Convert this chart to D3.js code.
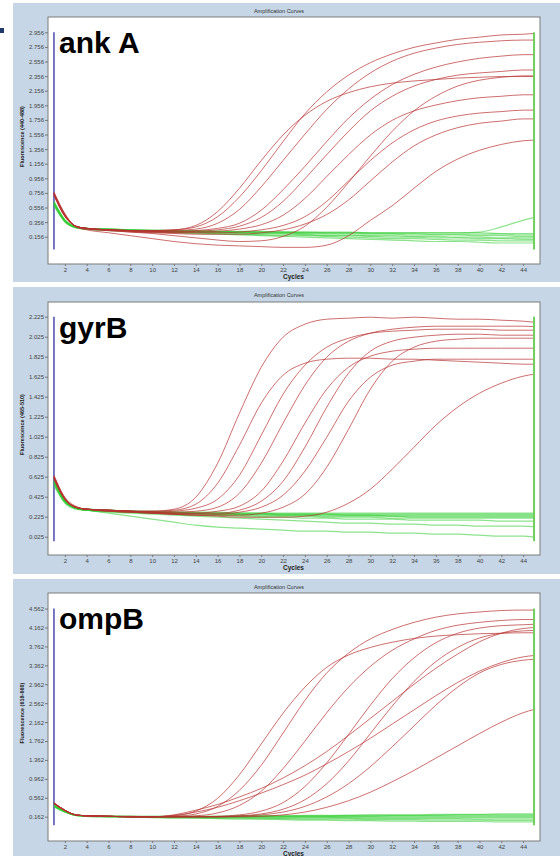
<!DOCTYPE html>
<html>
<head>
<meta charset="utf-8">
<script src="https://cdn.jsdelivr.net/npm/d3@7"></script>
<style>
  body { margin: 0; background: #fff; }
  svg { display: block; font-family: "Liberation Sans", Arial, sans-serif; }
</style>
</head>
<body>
<svg id="chart" width="560" height="856"></svg>
<script>
var cycles = [1,2,3,4,6,8,10,12,14,16,18,20,22,24,26,28,30,32,34,36,38,40,42,44,45];
var xTicks = [2,4,6,8,10,12,14,16,18,20,22,24,26,28,30,32,34,36,38,40,42,44];

// ank A
var ankTicks = [0.156,0.356,0.556,0.756,0.956,1.156,1.356,1.556,1.756,1.956,2.156,2.356,2.556,2.756,2.956];
var ankRed = [
  [0.76,0.47,0.30,0.27,0.25,0.24,0.24,0.25,0.31,0.50,0.82,1.20,1.55,1.82,2.01,2.13,2.21,2.26,2.29,2.31,2.33,2.34,2.35,2.35,2.35],
  [0.74,0.45,0.30,0.27,0.25,0.24,0.24,0.25,0.29,0.43,0.70,1.06,1.46,1.84,2.14,2.37,2.54,2.66,2.75,2.81,2.86,2.89,2.92,2.93,2.94],
  [0.73,0.44,0.30,0.27,0.25,0.24,0.23,0.24,0.26,0.34,0.53,0.84,1.20,1.56,1.90,2.18,2.40,2.56,2.67,2.74,2.79,2.82,2.84,2.85,2.85],
  [0.75,0.45,0.30,0.27,0.25,0.24,0.23,0.23,0.24,0.27,0.34,0.52,0.80,1.12,1.46,1.78,2.04,2.24,2.38,2.48,2.55,2.60,2.63,2.65,2.65],
  [0.74,0.44,0.30,0.27,0.25,0.24,0.23,0.22,0.23,0.25,0.30,0.42,0.64,0.95,1.28,1.60,1.88,2.08,2.22,2.31,2.37,2.40,2.42,2.44,2.44],
  [0.73,0.44,0.30,0.27,0.25,0.23,0.22,0.22,0.22,0.23,0.26,0.32,0.45,0.68,0.98,1.28,1.55,1.75,1.88,1.96,2.02,2.06,2.08,2.10,2.10],
  [0.72,0.43,0.30,0.27,0.25,0.23,0.22,0.21,0.21,0.21,0.22,0.25,0.31,0.43,0.64,0.92,1.20,1.44,1.62,1.74,1.81,1.85,1.87,1.89,1.89],
  [0.74,0.45,0.30,0.26,0.24,0.22,0.21,0.20,0.19,0.19,0.19,0.21,0.25,0.33,0.46,0.66,0.92,1.18,1.40,1.55,1.65,1.71,1.74,1.77,1.77],
  [0.75,0.45,0.30,0.27,0.24,0.22,0.20,0.17,0.14,0.11,0.09,0.10,0.16,0.30,0.56,0.90,1.26,1.60,1.88,2.08,2.22,2.30,2.34,2.36,2.36],
  [0.77,0.47,0.29,0.25,0.21,0.17,0.13,0.09,0.06,0.04,0.03,0.02,0.01,0.01,0.04,0.17,0.38,0.58,0.82,1.05,1.22,1.34,1.42,1.47,1.48]
];
var ankGreen = [
  [0.62,0.38,0.29,0.27,0.26,0.25,0.25,0.24,0.24,0.23,0.23,0.23,0.22,0.22,0.22,0.22,0.21,0.21,0.21,0.21,0.21,0.21,0.20,0.20,0.20],
  [0.60,0.37,0.29,0.27,0.26,0.25,0.24,0.24,0.23,0.23,0.22,0.22,0.22,0.21,0.21,0.21,0.20,0.20,0.20,0.19,0.19,0.19,0.19,0.18,0.18],
  [0.64,0.39,0.29,0.27,0.26,0.25,0.24,0.23,0.23,0.22,0.22,0.21,0.21,0.20,0.20,0.20,0.19,0.19,0.18,0.18,0.18,0.17,0.17,0.16,0.16],
  [0.58,0.36,0.28,0.26,0.25,0.24,0.23,0.23,0.22,0.21,0.21,0.20,0.20,0.19,0.18,0.18,0.17,0.17,0.16,0.16,0.15,0.15,0.14,0.14,0.14],
  [0.61,0.37,0.28,0.26,0.25,0.24,0.23,0.22,0.21,0.21,0.20,0.19,0.19,0.18,0.17,0.17,0.16,0.15,0.15,0.14,0.14,0.13,0.13,0.12,0.12],
  [0.63,0.38,0.29,0.26,0.25,0.24,0.23,0.22,0.21,0.20,0.19,0.18,0.17,0.17,0.16,0.15,0.14,0.13,0.13,0.12,0.11,0.11,0.10,0.10,0.10],
  [0.59,0.36,0.28,0.26,0.24,0.23,0.22,0.21,0.20,0.19,0.18,0.17,0.16,0.15,0.14,0.13,0.12,0.11,0.10,0.09,0.09,0.08,0.07,0.07,0.07],
  [0.62,0.38,0.29,0.27,0.26,0.25,0.24,0.24,0.23,0.23,0.22,0.22,0.22,0.22,0.21,0.21,0.21,0.21,0.21,0.21,0.21,0.22,0.29,0.38,0.42]
];

// gyrB
var gyrTicks = [0.025,0.225,0.425,0.625,0.825,1.025,1.225,1.425,1.625,1.825,2.025,2.225];
var gyrRed = [
  [0.64,0.42,0.33,0.30,0.29,0.28,0.28,0.30,0.42,0.76,1.26,1.72,2.02,2.15,2.20,2.21,2.22,2.21,2.22,2.21,2.20,2.20,2.19,2.18,2.17],
  [0.60,0.40,0.32,0.30,0.29,0.28,0.28,0.29,0.35,0.56,0.94,1.36,1.64,1.76,1.80,1.81,1.81,1.80,1.80,1.79,1.78,1.77,1.76,1.75,1.75],
  [0.63,0.41,0.32,0.30,0.29,0.28,0.27,0.28,0.31,0.40,0.64,1.04,1.45,1.74,1.92,2.01,2.06,2.08,2.09,2.10,2.10,2.10,2.09,2.09,2.09],
  [0.62,0.40,0.32,0.30,0.29,0.28,0.27,0.27,0.28,0.32,0.46,0.76,1.16,1.54,1.82,1.98,2.06,2.10,2.12,2.13,2.13,2.13,2.13,2.13,2.125],
  [0.61,0.40,0.32,0.30,0.29,0.28,0.27,0.26,0.26,0.28,0.33,0.48,0.78,1.16,1.50,1.72,1.83,1.88,1.90,1.91,1.91,1.91,1.91,1.91,1.91],
  [0.63,0.41,0.32,0.30,0.29,0.28,0.27,0.26,0.26,0.26,0.29,0.38,0.58,0.92,1.32,1.66,1.88,1.98,2.02,2.04,2.05,2.05,2.04,2.04,2.04],
  [0.60,0.40,0.32,0.30,0.28,0.27,0.26,0.25,0.25,0.25,0.27,0.32,0.44,0.68,1.02,1.38,1.62,1.74,1.78,1.80,1.80,1.80,1.80,1.80,1.80],
  [0.62,0.40,0.32,0.30,0.28,0.27,0.26,0.25,0.24,0.24,0.24,0.26,0.32,0.45,0.72,1.10,1.50,1.78,1.92,1.98,2.00,2.01,2.01,2.01,2.01],
  [0.61,0.40,0.32,0.30,0.28,0.27,0.26,0.25,0.24,0.23,0.22,0.22,0.22,0.23,0.27,0.36,0.50,0.70,0.92,1.14,1.32,1.46,1.56,1.63,1.65]
];
var gyrGreen = [
  [0.58,0.38,0.31,0.30,0.29,0.28,0.28,0.27,0.27,0.27,0.26,0.26,0.26,0.26,0.26,0.26,0.26,0.26,0.26,0.26,0.26,0.26,0.26,0.26,0.26],
  [0.55,0.37,0.31,0.29,0.28,0.28,0.27,0.27,0.26,0.26,0.26,0.26,0.25,0.25,0.25,0.25,0.25,0.25,0.25,0.25,0.25,0.25,0.25,0.25,0.25],
  [0.60,0.39,0.31,0.30,0.29,0.28,0.27,0.27,0.26,0.26,0.25,0.25,0.25,0.25,0.25,0.24,0.24,0.24,0.24,0.24,0.24,0.24,0.24,0.24,0.24],
  [0.57,0.38,0.31,0.29,0.28,0.27,0.27,0.26,0.26,0.25,0.25,0.25,0.24,0.24,0.24,0.24,0.24,0.23,0.23,0.23,0.23,0.23,0.23,0.23,0.23],
  [0.62,0.40,0.32,0.30,0.29,0.28,0.27,0.26,0.26,0.25,0.25,0.24,0.24,0.24,0.23,0.23,0.23,0.23,0.22,0.22,0.22,0.22,0.22,0.22,0.22],
  [0.56,0.37,0.31,0.29,0.28,0.27,0.26,0.26,0.25,0.24,0.24,0.23,0.23,0.23,0.22,0.22,0.22,0.21,0.21,0.21,0.21,0.21,0.21,0.21,0.21],
  [0.59,0.38,0.31,0.29,0.28,0.27,0.26,0.25,0.24,0.24,0.23,0.22,0.22,0.21,0.21,0.20,0.20,0.20,0.19,0.19,0.19,0.19,0.18,0.18,0.18],
  [0.58,0.38,0.31,0.29,0.27,0.26,0.25,0.24,0.23,0.22,0.21,0.20,0.19,0.18,0.17,0.16,0.16,0.15,0.15,0.14,0.14,0.13,0.13,0.13,0.125],
  [0.54,0.36,0.30,0.29,0.26,0.23,0.20,0.17,0.14,0.12,0.11,0.10,0.09,0.08,0.08,0.07,0.07,0.06,0.06,0.05,0.05,0.04,0.03,0.03,0.02]
];

// ompB
var ompTicks = [0.162,0.562,0.962,1.362,1.762,2.162,2.562,2.962,3.362,3.762,4.162,4.562];
var ompRed = [
  [0.46,0.30,0.20,0.18,0.17,0.17,0.16,0.18,0.28,0.55,1.05,1.70,2.35,2.90,3.32,3.58,3.74,3.85,3.93,3.98,4.01,4.03,4.04,4.05,4.05],
  [0.44,0.29,0.20,0.18,0.17,0.16,0.16,0.17,0.22,0.38,0.72,1.25,1.93,2.62,3.20,3.62,3.92,4.12,4.27,4.38,4.45,4.49,4.52,4.53,4.53],
  [0.45,0.30,0.20,0.18,0.17,0.16,0.16,0.16,0.18,0.24,0.40,0.70,1.18,1.76,2.36,2.90,3.34,3.68,3.92,4.10,4.21,4.27,4.31,4.33,4.33],
  [0.44,0.29,0.20,0.18,0.17,0.16,0.16,0.20,0.30,0.42,0.58,0.76,0.98,1.24,1.54,1.88,2.24,2.60,2.96,3.30,3.60,3.86,4.04,4.14,4.16],
  [0.45,0.30,0.20,0.18,0.17,0.16,0.16,0.19,0.26,0.36,0.50,0.66,0.84,1.04,1.28,1.54,1.82,2.12,2.42,2.72,3.00,3.24,3.42,3.54,3.57],
  [0.44,0.29,0.20,0.18,0.17,0.16,0.16,0.16,0.16,0.17,0.20,0.28,0.46,0.80,1.30,1.90,2.52,3.08,3.52,3.84,4.04,4.15,4.20,4.22,4.23],
  [0.45,0.30,0.20,0.18,0.17,0.16,0.16,0.16,0.16,0.16,0.18,0.22,0.32,0.52,0.86,1.34,1.92,2.50,3.02,3.44,3.74,3.94,4.04,4.09,4.10],
  [0.44,0.29,0.20,0.18,0.17,0.16,0.16,0.16,0.16,0.16,0.17,0.20,0.26,0.38,0.58,0.86,1.22,1.64,2.08,2.52,2.90,3.20,3.38,3.47,3.49],
  [0.45,0.30,0.20,0.18,0.17,0.16,0.16,0.16,0.16,0.16,0.16,0.17,0.20,0.26,0.36,0.50,0.68,0.90,1.14,1.40,1.66,1.92,2.16,2.36,2.43]
];
var ompGreen = [
  [0.42,0.28,0.20,0.18,0.18,0.17,0.17,0.17,0.17,0.17,0.18,0.18,0.18,0.19,0.19,0.19,0.20,0.20,0.20,0.21,0.21,0.21,0.22,0.22,0.22],
  [0.40,0.27,0.20,0.18,0.17,0.17,0.17,0.17,0.17,0.17,0.18,0.18,0.18,0.18,0.18,0.19,0.19,0.19,0.19,0.19,0.20,0.20,0.20,0.20,0.20],
  [0.43,0.28,0.20,0.18,0.17,0.17,0.16,0.16,0.16,0.16,0.17,0.17,0.17,0.17,0.17,0.17,0.17,0.18,0.18,0.18,0.18,0.18,0.18,0.18,0.18],
  [0.39,0.27,0.19,0.18,0.17,0.16,0.16,0.16,0.16,0.16,0.16,0.16,0.16,0.16,0.16,0.16,0.16,0.16,0.16,0.16,0.16,0.16,0.16,0.16,0.16],
  [0.41,0.27,0.19,0.18,0.17,0.16,0.16,0.15,0.15,0.15,0.15,0.15,0.15,0.15,0.15,0.14,0.14,0.14,0.14,0.14,0.14,0.14,0.14,0.14,0.14],
  [0.38,0.26,0.19,0.17,0.16,0.16,0.15,0.15,0.14,0.14,0.14,0.14,0.13,0.13,0.13,0.13,0.12,0.12,0.12,0.12,0.12,0.11,0.11,0.11,0.11],
  [0.40,0.27,0.19,0.17,0.16,0.15,0.15,0.14,0.14,0.13,0.13,0.12,0.12,0.11,0.11,0.11,0.10,0.10,0.10,0.09,0.09,0.09,0.08,0.08,0.08],
  [0.37,0.26,0.19,0.17,0.16,0.15,0.14,0.13,0.13,0.12,0.11,0.11,0.10,0.09,0.09,0.08,0.08,0.07,0.07,0.06,0.06,0.06,0.05,0.05,0.05]
];

var svg = d3.select("#chart");

// little bullet at top left
svg.append("rect").attr("x", 0).attr("y", 28).attr("width", 4).attr("height", 5).attr("fill", "#1f3a6a");

var panels = [
  {name: "ank A", channel: "Fluorescence (440-488)", red: ankRed, green: ankGreen, ticks: ankTicks,
   top: 3, bottom: 282, plotTop: 17, plotBottom: 264, dom: [-0.218, 3.166]},
  {name: "gyrB", channel: "Fluorescence (465-510)", red: gyrRed, green: gyrGreen, ticks: gyrTicks,
   top: 287, bottom: 574, plotTop: 302, plotBottom: 555, dom: [-0.158, 2.372]},
  {name: "ompB", channel: "Fluorescence (618-660)", red: ompRed, green: ompGreen, ticks: ompTicks,
   top: 579, bottom: 860, plotTop: 593, plotBottom: 841, dom: [-0.352, 4.891]}
];

var left = 48, right = 540;
var x = d3.scaleLinear().domain([0.5, 45.5]).range([left + 0.5, right - 0.5]);

panels.forEach(function(p) {
  var g = svg.append("g");

  // panel background
  g.append("rect")
    .attr("x", 13).attr("y", p.top)
    .attr("width", 560 - 13).attr("height", p.bottom - p.top)
    .attr("fill", "#c6d6e6");

  g.append("text")
    .attr("x", 279).attr("y", p.top + 10)
    .attr("text-anchor", "middle")
    .style("font-size", "5.5px")
    .attr("fill", "#333")
    .text("Amplification Curves");

  // plot area
  g.append("rect")
    .attr("x", left).attr("y", p.plotTop)
    .attr("width", right - left).attr("height", p.plotBottom - p.plotTop)
    .attr("fill", "#fff")
    .attr("stroke", "#7a7a7a")
    .attr("stroke-width", 1);

  var y = d3.scaleLinear().domain(p.dom).range([p.plotBottom, p.plotTop]);

  // y axis
  var yAxis = g.append("g")
    .attr("transform", "translate(" + left + ",0)")
    .call(d3.axisLeft(y).tickValues(p.ticks).tickSize(3).tickPadding(1).tickFormat(d3.format(".3f")));
  yAxis.select(".domain").remove();
  yAxis.selectAll("line").attr("stroke", "#777");
  yAxis.selectAll("text").attr("fill", "#444").style("font-size", "6px").style("font-family", "Liberation Sans, Arial, sans-serif");

  // x axis
  var xAxis = g.append("g")
    .attr("transform", "translate(0," + p.plotBottom + ")")
    .call(d3.axisBottom(x).tickValues(xTicks).tickSize(2).tickPadding(2).tickFormat(d3.format("d")));
  xAxis.select(".domain").remove();
  xAxis.selectAll("line").attr("stroke", "#777");
  xAxis.selectAll("text").attr("fill", "#444").style("font-size", "6px").style("font-family", "Liberation Sans, Arial, sans-serif");

  g.append("text")
    .attr("x", 283).attr("y", p.plotBottom + 15)
    .style("font-size", "6.5px").style("font-weight", "bold")
    .attr("fill", "#222")
    .text("Cycles");

  g.append("text")
    .attr("transform", "translate(24," + ((p.plotTop + p.plotBottom) / 2 - 4) + ") rotate(-90)")
    .attr("text-anchor", "middle")
    .style("font-size", "5.5px").style("font-weight", "bold")
    .attr("fill", "#222")
    .text(p.channel);

  // start / end markers
  var yTop = y(p.ticks[p.ticks.length - 1]), yBot = y(-0.02);
  g.append("line")
    .attr("x1", x(1)).attr("x2", x(1)).attr("y1", yTop).attr("y2", yBot)
    .attr("stroke", "#4b4bb0").attr("stroke-width", 1.5);

  var line = d3.line()
    .x(function(d, i) { return x(cycles[i]); })
    .y(function(d) { return y(d); })
    .curve(d3.curveMonotoneX);

  g.append("g").selectAll("path")
    .data(p.green)
    .enter().append("path")
      .attr("d", line)
      .attr("fill", "none")
      .attr("stroke", "#2ecc2e")
      .attr("stroke-opacity", 0.55)
      .attr("stroke-width", 1.2);

  g.append("g").selectAll("path")
    .data(p.red)
    .enter().append("path")
      .attr("d", line)
      .attr("fill", "none")
      .attr("stroke", "#b83030")
      .attr("stroke-opacity", 0.7)
      .attr("stroke-width", 1);

  g.append("line")
    .attr("x1", x(45)).attr("x2", x(45)).attr("y1", yTop).attr("y2", yBot)
    .attr("stroke", "#6fcf5a").attr("stroke-width", 2);

  g.append("text")
    .attr("x", 59).attr("y", p.plotTop + 36)
    .style("font-size", "30px").style("font-weight", "bold")
    .attr("fill", "#000")
    .text(p.name);
});
</script>
</body>
</html>
